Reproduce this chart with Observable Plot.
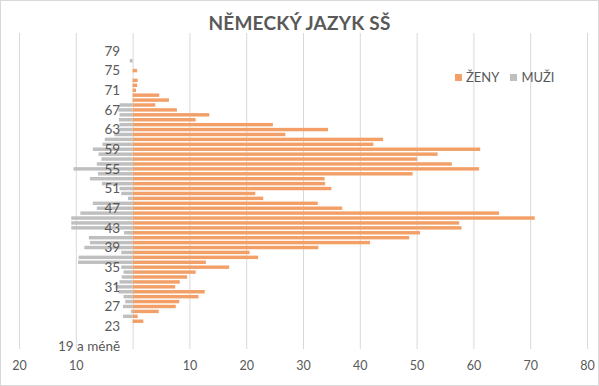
<!DOCTYPE html>
<html>
<head>
<meta charset="utf-8">
<script src="https://cdn.jsdelivr.net/npm/d3@7"></script>
<script src="https://cdn.jsdelivr.net/npm/@observablehq/plot@0.6"></script>
<style>
  html, body { margin: 0; padding: 0; background: #fff; }
  #wrap { position: relative; width: 599px; height: 386px; overflow: hidden; font-family: Lato, "Open Sans", sans-serif; }
  #frame { position: absolute; left: 0; top: 0; width: 597px; height: 384px; border: 1px solid #d9d9d9; pointer-events: none; }
  #title { position: absolute; left: 0; width: 599px; top: 11px; text-align: center; font-size: 19px; font-weight: 700; color: #595959; letter-spacing: 0.2px; }
  #legend { position: absolute; left: 455px; top: 69px; font-size: 13px; color: #595959; display: flex; align-items: center; }
  .sw { display: inline-block; width: 7px; height: 7px; margin-right: 4px; }
  .item { display: flex; align-items: center; margin-right: 11px; }
  #chart { position: absolute; left: 0; top: 0; }
</style>
</head>
<body>
<div id="wrap">
  <div id="chart"></div>
  <div id="title">NĚMECKÝ JAZYK SŠ</div>
  <div id="legend"></div>
  <div id="frame"></div>
</div>
<script>
// Categories, bottom to top
const ages = ["19 a méně","20","21","22","23","24","25","26","27","28","29",
  "30","31","32","33","34","35","36","37","38","39",
  "40","41","42","43","44","45","46","47","48","49",
  "50","51","52","53","54","55","56","57","58","59",
  "60","61","62","63","64","65","66","67","68","69",
  "70","71","72","73","74","75","76","77","78","79",
  "80","81","82"];
// ŽENY (women)
const zeny = [0,0,0,0,0,1.9,0.9,4.6,7.6,8.2,11.6,
  12.7,7.5,8.3,9.6,11.1,17.0,12.9,22.1,20.6,32.7,
  41.8,48.7,50.6,57.9,57.5,70.8,64.5,36.9,32.6,23.0,
  21.6,35.0,33.9,33.8,49.3,61.0,56.2,50.1,53.7,61.2,
  42.4,44.1,26.9,34.4,24.7,11.1,13.5,7.8,4.0,6.4,
  4.7,0.6,0.8,0.9,0,0.8,0,0,0,0,
  0,0,0];
// MUŽI (men)
const muzi = [0,0,0,0,0,0,1.7,0.3,1.7,1.3,1.6,
  2.5,3.0,2.3,1.9,1.6,2.0,9.6,9.5,2.0,8.5,
  7.5,7.7,1.5,10.8,10.8,10.8,9.2,6.3,7.0,0.8,
  2.0,2.3,5.4,7.5,6.1,10.4,6.3,5.5,6.0,7.0,
  5.3,4.9,3.2,2.5,2.3,2.4,2.3,2.5,2.3,0,
  0,0,0,0,0,0,0,0.5,0,0,
  0,0,0];
const yLabels = ["19 a méně","23","27","31","35","39","43","47","51","55","59","63","67","71","75","79"];
const xTicks = [-20,-10,0,10,20,30,40,50,60,70,80];
const seriesNames = ["ŽENY","MUŽI"];
const colors = ["#F2A068","#BFBFBF"];

const rows = ages.map((a, i) => ({age: a, zeny: zeny[i], muzi: muzi[i]}));
const textColor = "#595959";
const font = "Lato, 'Open Sans', sans-serif";

const chart = Plot.plot({
  width: 599,
  height: 386,
  marginLeft: 19,
  marginRight: 12,
  marginTop: 33,
  marginBottom: 37,
  style: {fontFamily: font, color: textColor, background: "transparent"},
  x: {domain: [-20, 80]},
  y: {type: "band", domain: ages.slice().reverse(), padding: 0.3, axis: null},
  marks: [
    Plot.gridX(xTicks, {stroke: "#d9d9d9", strokeOpacity: 1}),
    Plot.barX(rows, {x: "zeny", y: "age", fill: colors[0]}),
    Plot.barX(rows, {x: d => -d.muzi, y: "age", fill: colors[1]}),
    Plot.axisX(xTicks, {tickSize: 0, tickPadding: 12, fontSize: 12.5, fill: textColor, label: null,
      tickFormat: d => d === 0 ? "" : String(Math.abs(d))}),
    Plot.text(yLabels, {x: 0, y: d => d, dx: -13, textAnchor: "end", fontSize: 13.5, fill: textColor})
  ]
});
document.getElementById("chart").appendChild(chart);

const legend = document.getElementById("legend");
seriesNames.forEach((n, i) => {
  const it = document.createElement("span");
  it.className = "item";
  it.innerHTML = `<span class="sw" style="background:${colors[i]}"></span>${n}`;
  legend.appendChild(it);
});
</script>
</body>
</html>
